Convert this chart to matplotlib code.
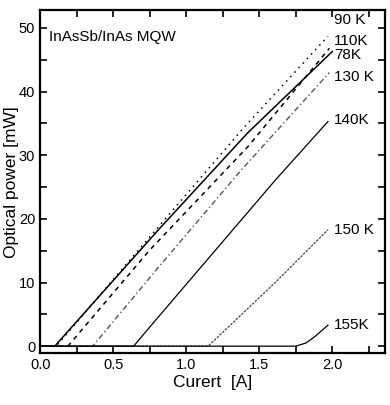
import numpy as np
import matplotlib
matplotlib.use("Agg")
import matplotlib.pyplot as plt
from matplotlib.ticker import MultipleLocator

plt.rcParams['font.family'] = ['Liberation Sans', 'DejaVu Sans']

# L-I curves: current [A], optical power [mW]
cur_78 = [0.0, 0.10, 0.81, 1.42, 2.00]
pow_78 = [0.0, 0.0, 18.3, 33.5, 46.3]

cur_90 = [0.0, 0.11, 0.80, 1.40, 1.97]
pow_90 = [0.0, 0.0, 18.5, 34.5, 48.7]

cur_110 = [0.0, 0.19, 0.75, 1.42, 1.98]
pow_110 = [0.0, 0.0, 15.1, 31.3, 46.8]

cur_130 = [0.0, 0.36, 0.81, 1.37, 1.98]
pow_130 = [0.0, 0.0, 12.4, 27.5, 43.0]

cur_140 = [0.0, 0.64, 0.75, 1.61, 1.97]
pow_140 = [0.0, 0.0, 3.0, 26.1, 35.3]

cur_150 = [0.0, 1.15, 1.60, 1.97]
pow_150 = [0.0, 0.0, 9.8, 18.3]

cur_155 = [0.0, 1.75, 1.82, 1.88, 1.97]
pow_155 = [0.0, 0.0, 0.5, 1.5, 3.3]

labels = ["90 K", "110K", "78K", "130 K", "140K", "150 K", "155K"]
label_y = [51.3, 47.9, 45.8, 42.3, 35.6, 18.3, 3.3]

fig = plt.figure(figsize=(3.9, 4.05), dpi=100)
ax = fig.add_axes([0.103, 0.128, 0.884, 0.847])

ax.plot(cur_78, pow_78, color='black', lw=1.1, ls='-')
ax.plot(cur_90, pow_90, color='black', lw=1.1, ls=(0, (1, 3)))
ax.plot(cur_110, pow_110, color='black', lw=1.1, ls=(0, (3, 3)))
ax.plot(cur_130, pow_130, color='#555555', lw=1.0, ls=(0, (4, 2, 1, 2)))
ax.plot(cur_140, pow_140, color='black', lw=0.9, ls='-')
ax.plot(cur_150, pow_150, color='#444444', lw=0.9, ls=(0, (2, 1)))
ax.plot(cur_155, pow_155, color='black', lw=0.9, ls='-')

for lab, yy in zip(labels, label_y):
    ax.text(2.01, yy, lab, fontsize=11, va='center', ha='left')

ax.text(0.06, 48.6, "InAsSb/InAs MQW", fontsize=11, va='center', ha='left')

ax.set_xlim(0, 2.36)
ax.set_ylim(-1.1, 52.8)
ax.xaxis.set_major_locator(MultipleLocator(0.5))
ax.xaxis.set_minor_locator(MultipleLocator(0.25))
ax.yaxis.set_major_locator(MultipleLocator(10))
ax.yaxis.set_minor_locator(MultipleLocator(5))
ax.tick_params(which='both', direction='in', top=True, right=True,
               length=5, width=1.2, labelsize=10.5)
ax.xaxis.set_major_formatter(plt.FuncFormatter(lambda v, p: f"{v:.1f}"))
ax.yaxis.set_major_formatter(plt.FuncFormatter(lambda v, p: f"{v:.0f}"))
for s in ax.spines.values():
    s.set_linewidth(1.6)

ax.set_xlabel("Curert  [A]", fontsize=12.5, labelpad=2)
ax.set_ylabel("Optical power [mW]", fontsize=12.5, labelpad=0)

fig.savefig("out.png", dpi=100)
